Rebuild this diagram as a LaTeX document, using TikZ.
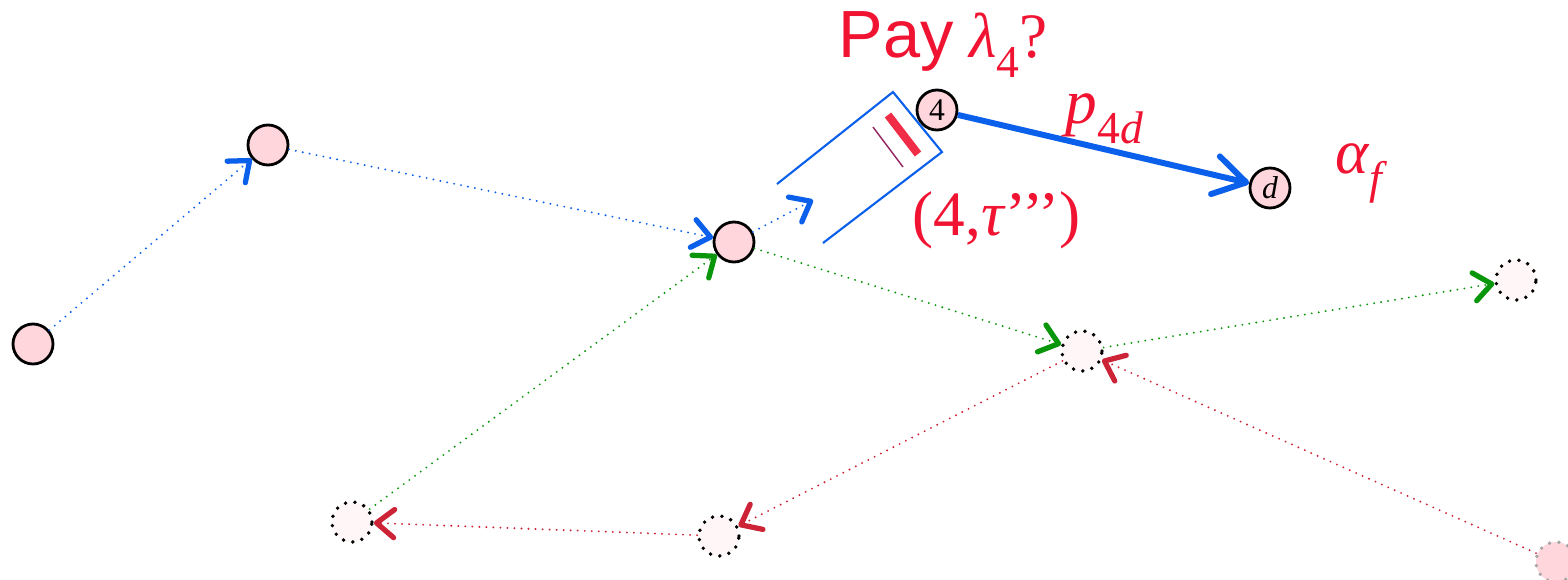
\documentclass[tikz,border=0pt]{standalone}
\usepackage{fontspec}
\setmainfont{Liberation Serif}
\setsansfont{Liberation Sans}
\usepackage{tikz}
\usetikzlibrary{arrows.meta,positioning,calc}
\usepackage{xcolor}
\definecolor{nodepink}{RGB}{255,214,220}
\definecolor{ghost}{RGB}{255,247,247}
\definecolor{wblue}{RGB}{10,95,235}
\definecolor{wgreen}{RGB}{10,150,10}
\definecolor{wred}{RGB}{205,35,55}
\definecolor{lblred}{RGB}{240,20,50}
\definecolor{cutline}{RGB}{150,40,100}
\newcommand{\lowsub}[1]{\raisebox{-0.32em}{\fontsize{13}{14}\selectfont #1}}
\tikzset{
  pnode/.style={circle, draw, line width=0.8pt, fill=nodepink,
    minimum size=4mm, inner sep=0pt, font=\fontsize{9}{10}\selectfont},
  gnode/.style={circle, draw, line width=1.1pt, line cap=round,
    dash pattern=on 0pt off 2.7pt, fill=ghost, minimum size=4mm, inner sep=0pt},
  walk/.style={line width=0.6pt, line cap=round, dash pattern=on 0pt off 2pt,
    -{Straight Barb[length=5pt,width=8pt,line width=1.5pt,round]}},
  lbl/.style={text=lblred, font=\fontsize{18}{21}\selectfont, inner sep=0pt},
}

\begin{document}
\begin{tikzpicture}[x=0.1mm,y=-0.1mm]
\clip (0,0) rectangle (1568,579);

% the walk so far
\node[pnode] (a) at (33,344) {};
\node[pnode] (b) at (268,145) {};
\node[pnode] (c) at (734,242) {};
\coordinate (stub) at (813,200);

% the offer
\node[pnode] (n4) at (937,110) {4};
\node[pnode] (d) at (1270,188) {\textit{d}};

% ghost nodes
\node[gnode] (g1) at (1082,351) {};
\node[gnode] (g2) at (1516,280) {};
\node[gnode] (g3) at (352,522) {};
\node[gnode] (g4) at (719,536) {};
\node[gnode, fill=nodepink, draw=black!35] (e) at (1556,562) {};

\draw[walk, wblue] (a) -- (b);
\draw[walk, wblue] (b) -- (c);
\draw[walk, wblue] (c) -- (stub);
\draw[walk, wgreen] (g3) -- (c);
\draw[walk, wgreen] (c) -- (g1);
\draw[walk, wgreen] (g1) -- (g2);
\draw[walk, wred] (e) -- (g1);
\draw[walk, wred] (g1) -- (g4);
\draw[walk, wred] (g4) -- (g3);

% gate in front of node 4
\draw[wblue, line width=0.6pt] (777,184) -- (893,92) -- (942,152) -- (823,243);
\draw[lblred!90!white, line width=2.3pt] (888,115) -- (918,154);
\draw[cutline, line width=0.4pt] (873,127) -- (903,167);

\draw[wblue, line width=1.7pt,
  -{Straight Barb[length=9pt,width=11pt,round]}] (n4) -- (d);

% labels
\node[lbl, anchor=base west] (pay) at (838,57)
  {{\sffamily\fontsize{19}{21}\selectfont Pay} \textit{λ}\lowsub{4}?};
\node[lbl, anchor=base west] (p4d) at (1065,123)
  {\textit{p}\lowsub{4\textit{d}}};
\node[lbl, anchor=base west] (alf) at (1335,173)
  {\textit{α}\lowsub{\textit{f}}};
\node[lbl, anchor=base west] (tau) at (912,235)
  {(4,\textit{τ}’’’)};
\end{tikzpicture}
\end{document}
